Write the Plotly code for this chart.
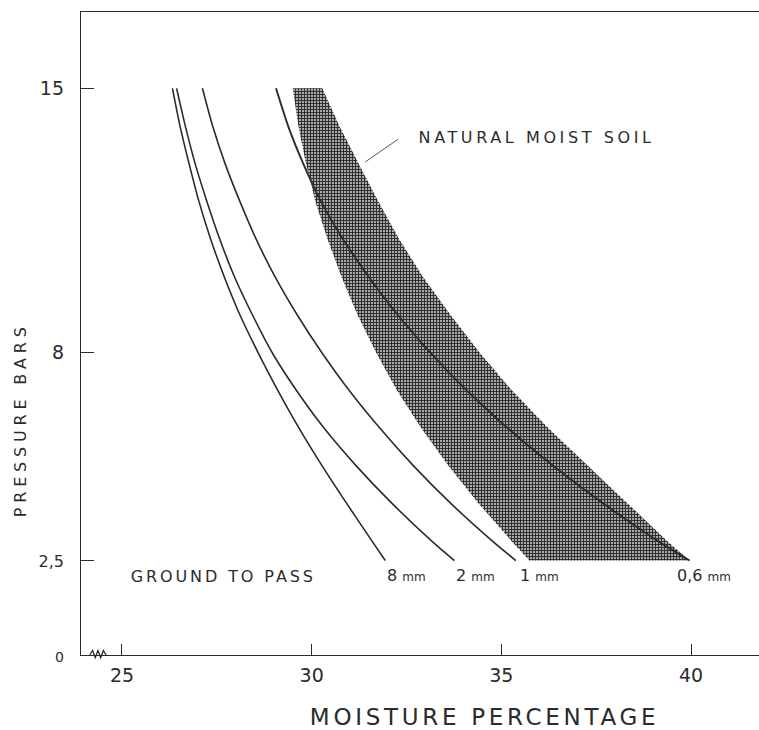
import plotly.graph_objects as go

# ---- data ----
pressure_bars = [15, 14, 13, 12, 11, 10, 9, 8, 7, 6, 5, 4, 3, 2.5]
moist_8mm = [26.33, 26.53, 26.77, 27.03, 27.34, 27.70, 28.11, 28.59, 29.11, 29.67, 30.28, 30.93, 31.60, 31.94]
moist_2mm = [26.44, 26.67, 26.93, 27.24, 27.58, 27.97, 28.44, 28.96, 29.60, 30.33, 31.18, 32.13, 33.18, 33.76]
moist_1mm = [27.12, 27.39, 27.72, 28.11, 28.54, 29.04, 29.62, 30.27, 30.99, 31.80, 32.69, 33.68, 34.78, 35.38]
moist_06mm = [29.06, 29.38, 29.78, 30.25, 30.83, 31.51, 32.27, 33.13, 34.09, 35.17, 36.37, 37.70, 39.15, 39.96]
natural_low = [29.50, 29.65, 29.85, 30.10, 30.42, 30.79, 31.21, 31.70, 32.25, 32.89, 33.61, 34.41, 35.28, 35.74]
natural_high = [30.28, 30.73, 31.24, 31.76, 32.31, 32.94, 33.66, 34.43, 35.28, 36.24, 37.28, 38.34, 39.39, 39.96]

series_names = ["8 mm", "2 mm", "1 mm", "0,6 mm"]
series_values = [moist_8mm, moist_2mm, moist_1mm, moist_06mm]
label_shift = [0, 0, 2, -15]

x_ticks = [25, 30, 35, 40]
x_ticktext = ["25", "30", "35", "40"]
y_ticks = [0, 2.5, 8, 15]
y_ticktext = ["<span style='font-size:14px'>0</span>",
              "<span style='font-size:16px'>2,5</span>", "8", "15"]

INK = "#2b2b2b"
FONT = "DejaVu Sans"
W, H = 759, 730
L, T, B = 81, 12, 75
PW, PH = W - L, H - T - B

fig = go.Figure()

# natural moist soil band
fig.add_trace(go.Scatter(
    x=natural_low + natural_high[::-1],
    y=pressure_bars + pressure_bars[::-1],
    fill="toself", mode="lines", line=dict(width=0, color="rgba(0,0,0,0)"),
    fillcolor="#8c8c8c",
    fillpattern=dict(shape="+", size=3, solidity=0.6, fgcolor="#303030",
                     bgcolor="#b0b0b0", fillmode="replace"),
    hoverinfo="skip", showlegend=False))

for name, vals in zip(series_names, series_values):
    fig.add_trace(go.Scatter(
        x=vals, y=pressure_bars, mode="lines", name=name,
        line=dict(color=INK, width=1.6 if name != "0,6 mm" else 1.9,
                  shape="spline", smoothing=0.7),
        showlegend=False))

# curve end labels
for name, vals, dx in zip(series_names, series_values, label_shift):
    num, unit = name.split(" ")
    fig.add_annotation(
        x=vals[-1], y=pressure_bars[-1], xref="x", yref="y",
        text=f"{num} <span style='font-size:12px'>{unit}</span>",
        showarrow=False, xanchor="left", yanchor="middle", xshift=dx, yshift=-15,
        font=dict(family=FONT, size=16, color=INK))

def px2paper(px, py):
    return (px - L) / PW, (H - B - py) / PH

gx, gy = px2paper(223, 576)
fig.add_annotation(
    x=gx, y=gy, xref="paper", yref="paper", text="GROUND TO PASS",
    showarrow=False, xanchor="center", yanchor="middle",
    font=dict(family=FONT, size=16, color=INK))

fig.add_annotation(
    x=31.41, y=13.05, xref="x", yref="y", ax=32.32, ay=13.68, axref="x", ayref="y",
    text="", showarrow=True, arrowhead=0, arrowwidth=1, arrowcolor="#555")
nx, ny = px2paper(536, 137)
fig.add_annotation(
    x=nx, y=ny, xref="paper", yref="paper", text="NATURAL MOIST SOIL",
    showarrow=False, xanchor="center", yanchor="middle",
    font=dict(family=FONT, size=16, color=INK))

# axis titles
yx, yy = px2paper(20, 420)
fig.add_annotation(
    x=yx, y=yy, xref="paper", yref="paper", text="PRESSURE BARS",
    textangle=-90, showarrow=False, xanchor="center", yanchor="middle",
    font=dict(family=FONT, size=16, color=INK))
xx, xy = px2paper(484, 717)
fig.add_annotation(
    x=xx, y=xy, xref="paper", yref="paper",
    text="MOISTURE PERCENTAGE", showarrow=False, xanchor="center", yanchor="middle",
    font=dict(family=FONT, size=23, color=INK))

# axis break mark near origin
fig.add_shape(type="path", xref="paper", yref="paper",
              path="M 0.013 0 L 0.017 0.007 L 0.021 -0.004 L 0.025 0.007 L 0.029 -0.004 L 0.033 0.007 L 0.037 0",
              line=dict(color=INK, width=1.3))

fig.update_layout(
    width=W, height=H,
    margin=dict(l=L, r=0, t=T, b=B),
    paper_bgcolor="white", plot_bgcolor="white",
    xaxis=dict(range=[23.92, 41.79], tickvals=x_ticks, ticktext=x_ticktext,
               ticks="inside", ticklen=11, tickwidth=1.2, tickcolor=INK,
               showline=True, linecolor=INK, linewidth=1.4, mirror=True,
               showgrid=False, zeroline=False, ticklabelstandoff=3,
               tickfont=dict(family=FONT, size=19, color=INK)),
    yaxis=dict(range=[0, 17.02], tickvals=y_ticks, ticktext=y_ticktext,
               ticks="inside", ticklen=13, tickwidth=1.2, tickcolor=INK,
               showline=True, linecolor=INK, linewidth=1.4,
               showgrid=False, zeroline=False, ticklabelstandoff=12,
               tickfont=dict(family=FONT, size=19, color=INK)),
)

post = """
document.body.style.margin = '0px';
document.body.style.overflow = 'hidden';
var sp = {'NATURAL MOIST SOIL': 3.6, 'GROUND TO PASS': 2.9,
          'MOISTURE PERCENTAGE': 3.7, 'PRESSURE BARS': 4.8};
document.querySelectorAll('text.annotation-text').forEach(function (t) {
  var k = t.textContent;
  if (sp[k] !== undefined) { t.style.letterSpacing = sp[k] + 'px'; }
});
"""

fig.write_html("out.html", post_script=post, config={"displayModeBar": False})
